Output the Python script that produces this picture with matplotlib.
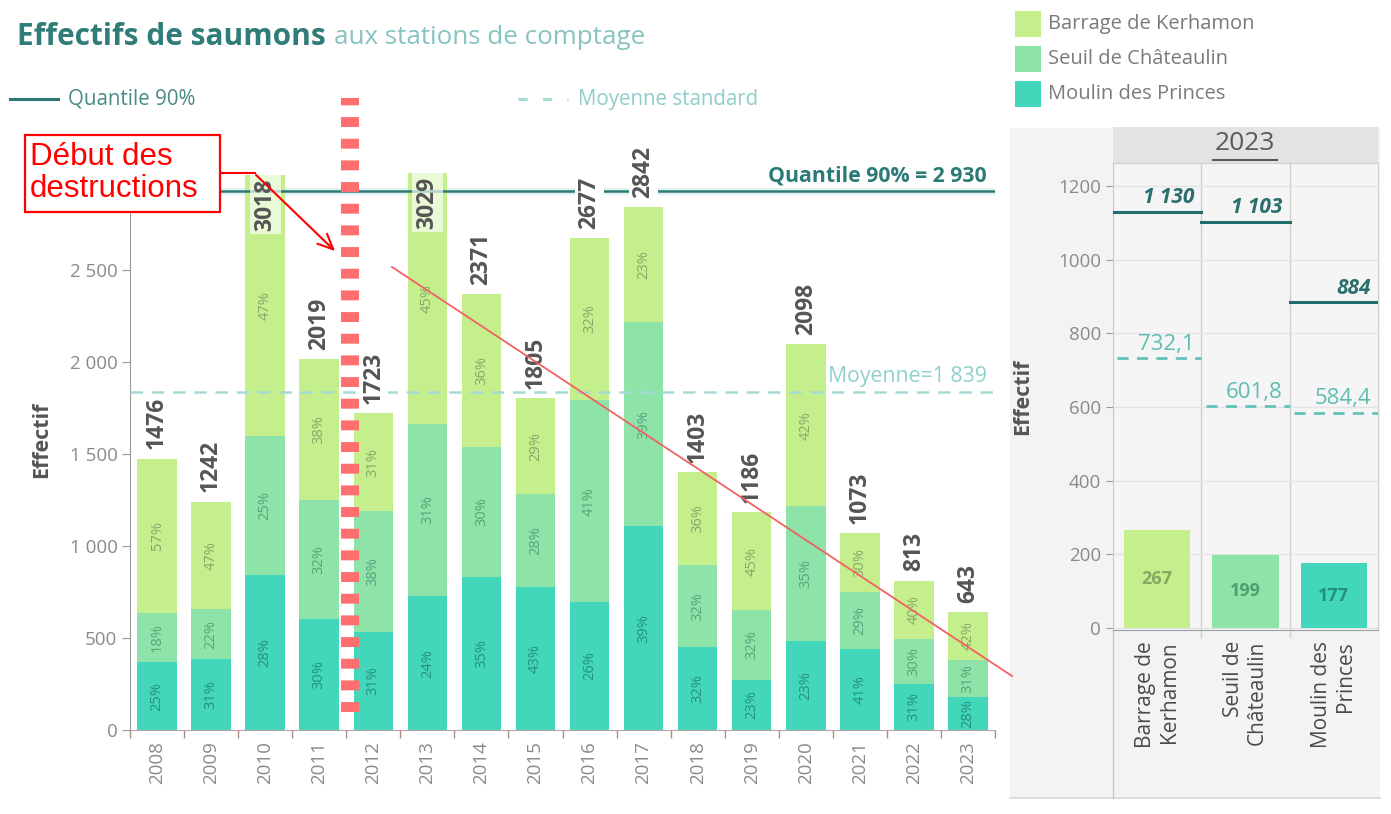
import matplotlib
matplotlib.use("Agg")
import matplotlib.pyplot as plt
import numpy as np
from matplotlib.patches import Rectangle
from matplotlib.lines import Line2D
from matplotlib.ticker import FuncFormatter

plt.rcParams['font.family'] = ['Open Sans', 'DejaVu Sans']

# ---------------- data ----------------
years = ['2008', '2009', '2010', '2011', '2012', '2013', '2014', '2015',
         '2016', '2017', '2018', '2019', '2020', '2021', '2022', '2023']
totals = [1476, 1242, 3018, 2019, 1723, 3029, 2371, 1805,
          2677, 2842, 1403, 1186, 2098, 1073, 813, 643]
pct_moulin = [25, 31, 28, 30, 31, 24, 35, 43, 26, 39, 32, 23, 23, 41, 31, 28]
pct_seuil = [18, 22, 25, 32, 38, 31, 30, 28, 41, 39, 32, 32, 35, 29, 30, 31]
pct_barrage = [57, 47, 47, 38, 31, 45, 36, 29, 32, 23, 36, 45, 42, 30, 40, 42]
quantile90 = 2930
moyenne = 1839

stations = ['Barrage de Kerhamon', 'Seuil de Châteaulin', 'Moulin des Princes']
station_ticks = ['Barrage de\nKerhamon', 'Seuil de\nChâteaulin', 'Moulin des\nPrinces']
values_2023 = [267, 199, 177]
quantile_2023 = [1130, 1103, 884]
quantile_2023_lbl = ['1 130', '1 103', '884']
moyenne_2023 = [732.1, 601.8, 584.4]
moyenne_2023_lbl = ['732,1', '601,8', '584,4']

# ---------------- styles ----------------
c_barrage = '#c4ef8c'
c_seuil = '#8de3a8'
c_moulin = '#42d6bb'
colors = [c_barrage, c_seuil, c_moulin]
pct_colors = {'b': '#86a96a', 's': '#58a37c', 'm': '#25907f'}
teal_dark = '#2c7a76'
teal_light = '#a6dad5'
teal_mid = '#62c2b8'
gray_txt = '#8a8a8a'

W, H = 1391, 814
def fx(p):
    return p / W
def fy(p):
    return 1 - p / H

fig = plt.figure(figsize=(W / 100, H / 100), dpi=100)

# right panel background
bg = Rectangle((fx(1010), fy(798)), fx(1380) - fx(1010), fy(128) - fy(798),
               transform=fig.transFigure, fc='#f3f3f3', ec='none', zorder=-5)
fig.patches.append(bg)
fig.add_artist(Line2D([fx(1010), fx(1380)], [fy(798), fy(798)], color='#d6d6d6', lw=1.2, zorder=-4))
hdr = Rectangle((fx(1113), fy(163)), fx(1378) - fx(1113), fy(127) - fy(163),
                transform=fig.transFigure, fc='#e3e3e3', ec='none', zorder=-4)
fig.patches.append(hdr)

# ---------------- left chart ----------------
ax = fig.add_axes([fx(130), fy(730), fx(995) - fx(130), fy(172) - fy(730)])
ax.set_zorder(2)
ax.set_facecolor('none')
x = np.arange(len(years))
tot = np.array(totals, float)
m = tot * np.array(pct_moulin) / 100
s = tot * np.array(pct_seuil) / 100
b = tot - m - s
bw = 0.73
ax.bar(x, m, width=bw, color=c_moulin, zorder=2)
ax.bar(x, s, bottom=m, width=bw, color=c_seuil, zorder=2)
ax.bar(x, b, bottom=m + s, width=bw, color=c_barrage, zorder=2)
ax.set_xlim(-0.5, 15.5)
ax.set_ylim(0, 3035)

for i in range(len(years)):
    segs = [(m[i] / 2, pct_moulin[i], 'm'),
            (m[i] + s[i] / 2, pct_seuil[i], 's'),
            (m[i] + s[i] + b[i] / 2, pct_barrage[i], 'b')]
    for yc, p, k in segs:
        ax.text(x[i], yc, f'{p}%', rotation=90, ha='center', va='center',
                fontsize=10.5, color=pct_colors[k], zorder=3)
    if totals[i] > quantile90:
        ax.text(x[i], totals[i] - 20, str(totals[i]), rotation=90, ha='center', va='top',
                fontsize=16.5, fontweight='bold', color='#555555', zorder=4,
                bbox=dict(boxstyle='square,pad=0.15', fc='white', ec='none', alpha=0.65))
    else:
        ax.text(x[i], totals[i] + 50, str(totals[i]), rotation=90, ha='center', va='bottom',
                fontsize=16.5, fontweight='bold', color='#555555', zorder=4,
                bbox=dict(boxstyle='square,pad=0.1', fc='white', ec='none'))

# reference lines
ax.axhline(quantile90, color='#e2f3f1', lw=5, zorder=1)
ax.axhline(quantile90, color=teal_dark, lw=1.8, zorder=3)
ax.axhline(moyenne, color=teal_light, lw=1.8, ls=(0, (5, 3.5)), zorder=3)
ax.text(15.35, quantile90 + 25, 'Quantile 90% = 2 930', ha='right', va='bottom',
        fontsize=15.3, fontweight='bold', color=teal_dark, zorder=5)
ax.text(15.35, moyenne + 25, 'Moyenne=1 839', ha='right', va='bottom',
        fontsize=15.3, color='#8fd0cb', zorder=5)

ax.yaxis.set_major_formatter(FuncFormatter(lambda v, p: f'{int(v):,}'.replace(',', ' ')))
ax.set_yticks([0, 500, 1000, 1500, 2000, 2500])
ax.set_xticks(x)
ax.set_xticklabels(years, rotation=90)
ax.set_xticks(np.arange(-0.5, 16, 1), minor=True)
ax.tick_params(axis='x', which='major', length=0, pad=8, labelsize=13.5, labelcolor=gray_txt)
ax.tick_params(axis='x', which='minor', length=6, color='#b08a8a', width=1)
ax.tick_params(axis='y', length=6, color='#999999', labelsize=13.5, labelcolor=gray_txt, pad=3)
for sp in ['top', 'right']:
    ax.spines[sp].set_visible(False)
ax.spines['left'].set_color('#9a9a9a')
ax.spines['bottom'].set_color('#b8a5a5')
ax.set_ylabel('Effectif', fontsize=15.5, fontweight='bold', color='#555555')
ax.yaxis.set_label_coords(-0.09, 0.52)

# ---------------- title & legends ----------------
t1 = fig.text(fx(17), fy(37), 'Effectifs de saumons', fontsize=21.5, fontweight='bold',
              color='#2f7c78', va='center', ha='left')
fig.canvas.draw()
bb = t1.get_window_extent()
fig.text(bb.x1 / W + fx(8), fy(37), 'aux stations de comptage', fontsize=18.7,
         color='#86c4bf', va='center', ha='left')

fig.add_artist(Line2D([fx(10), fx(58)], [fy(99), fy(99)], color=teal_dark, lw=2.2))
fig.text(fx(68), fy(99), 'Quantile 90%', fontsize=14.8, color='#4a8a86', va='center', ha='left')
fig.add_artist(Line2D([fx(518), fx(568)], [fy(99), fy(99)], color=teal_light, lw=2.2,
                      ls=(0, (3, 5))))
fig.text(fx(578), fy(99), 'Moyenne standard', fontsize=14.8, color='#8fcdc8', va='center', ha='left')

for k, (lab, col) in enumerate(zip(stations, colors)):
    yc = 24 + k * 35
    fig.patches.append(Rectangle((fx(1015), fy(yc + 13)), fx(26), 26 / H,
                                 transform=fig.transFigure, fc=col, ec='none'))
    fig.text(fx(1048), fy(yc), lab, fontsize=14.5, color='#7a7a7a', va='center', ha='left')

# ---------------- right panel ----------------
fig.text(fx(1245), fy(144), '2023', fontsize=19, color='#5a5a5a', ha='center', va='center')
fig.add_artist(Line2D([fx(1213), fx(1277)], [fy(160), fy(160)], color='#5a5a5a', lw=1.5))

ax2 = fig.add_axes([fx(1113), fy(630), fx(1378) - fx(1113), fy(163) - fy(630)])
ax2.set_zorder(2)
ax2.set_facecolor('#f5f5f5')
x2 = np.arange(len(stations))
ax2.bar(x2, values_2023, width=0.75, color=colors, zorder=2)
ax2.set_xlim(-0.5, 2.5)
ax2.set_ylim(-5, 1262)
ax2.set_yticks([0, 200, 400, 600, 800, 1000, 1200])
ax2.grid(axis='y', color='#e4e4e4', lw=1, zorder=0)
ax2.tick_params(axis='y', length=5, color='#999999', labelsize=13.5, labelcolor=gray_txt)
ax2.set_xticks(x2)
ax2.set_xticklabels(station_ticks, rotation=90, multialignment='right', va='top', ha='center')
ax2.tick_params(axis='x', length=0, pad=8, labelsize=15, labelcolor='#4a4a4a')
for sp in ['top', 'right']:
    ax2.spines[sp].set_color('#d0d0d0')
ax2.spines['left'].set_color('#c8c8c8')
ax2.spines['bottom'].set_color('#9aa0a8')
for xb in [0.5, 1.5]:
    ax2.plot([xb, xb], [-25, 1262], color='#cfcfcf', lw=1, clip_on=False, zorder=1)
fig.add_artist(Line2D([fx(1113), fx(1113)], [fy(798), fy(630)], color='#c8c8c8', lw=1))
val_colors = ['#86a863', '#4c9f6f', '#23907f']
for i, v in enumerate(values_2023):
    ax2.text(x2[i], v * 0.5, str(v), ha='center', va='center', fontsize=13,
             fontweight='bold', color=val_colors[i], zorder=3)
    ax2.plot([i - 0.5, i + 0.5], [quantile_2023[i]] * 2, color='#1f6e6b', lw=2.2, zorder=3)
    ax2.text(i + 0.42, quantile_2023[i] + 10, quantile_2023_lbl[i], ha='right', va='bottom',
             fontsize=15, fontweight='bold', fontstyle='italic', color='#2a6f6c', zorder=4)
    ax2.plot([i - 0.45, i + 0.5], [moyenne_2023[i]] * 2, color=teal_mid, lw=2,
             ls=(0, (4, 3)), zorder=3)
    ax2.text(i + 0.42, moyenne_2023[i] + 10, moyenne_2023_lbl[i], ha='right', va='bottom',
             fontsize=16, color='#5ebdb2', zorder=4)
ax2.set_ylabel('Effectif', fontsize=15.5, fontweight='bold', color='#555555')
ax2.yaxis.set_label_coords(-0.30, 0.5)

# ---------------- red annotations ----------------
fig.add_artist(Line2D([fx(350), fx(350)], [fy(712), fy(98)], color='#ff6f6f', lw=13,
                      ls=(0, (0.55, 0.65)), solid_capstyle='butt', dash_capstyle='butt', zorder=10))
fig.add_artist(Line2D([fx(392), fx(1012)], [fy(267), fy(676)], color='#f26262', lw=1.3, zorder=10))
fig.patches.append(Rectangle((fx(25), fy(212)), fx(220) - fx(25), fy(135) - fy(212),
                             transform=fig.transFigure, fc='white', ec='red', lw=1.6, zorder=11))
fig.text(fx(30), fy(173), 'Début des\ndestructions', fontsize=22.5, color='red',
         family='Liberation Sans', ha='left', va='center', linespacing=1.1, zorder=12)
fig.add_artist(Line2D([fx(220), fx(255)], [fy(173), fy(173)], color='red', lw=1.5, zorder=11))
ax.annotate('', xy=(fx(337), fy(253)), xytext=(fx(254), fy(173)),
            xycoords='figure fraction', textcoords='figure fraction',
            arrowprops=dict(arrowstyle='->,head_length=1.1,head_width=0.5', color='red', lw=1.5),
            zorder=11, annotation_clip=False)

fig.savefig('out.png', dpi=100)
